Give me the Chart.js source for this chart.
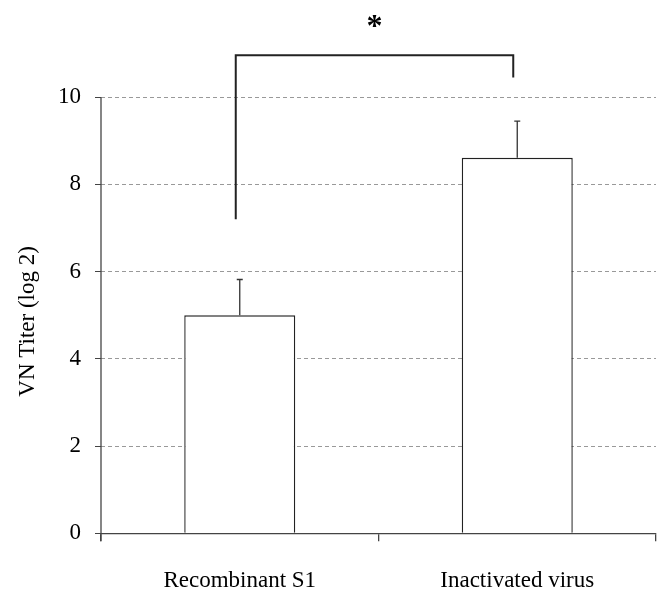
<!DOCTYPE html>
<html>
<head>
<meta charset="utf-8">
<script src="https://cdn.jsdelivr.net/npm/chart.js@4"></script>
<style>
  html, body { margin: 0; padding: 0; background: #fff; }
  #wrap { width: 664px; height: 598px; }
</style>
</head>
<body>
<div id="wrap"><canvas id="bars"></canvas></div>
<script>
const categories = ['Recombinant S1', 'Inactivated virus'];
const titers = [5.0, 8.61];
const errorTops = [5.82, 9.45];
const yTicks = [0, 2, 4, 6, 8, 10];
const yTitle = 'VN Titer (log 2)';
// significance bracket: left leg bottom, top, right leg bottom; star height
const bracket = { leftLow: 7.2, top: 10.96, rightLow: 10.45, star: 11.75, label: '*' };

const serif = "'Liberation Serif', 'DejaVu Serif', serif";

const extras = {
  id: 'extras',
  afterDatasetsDraw(chart) {
    const { ctx, scales: { x, y } } = chart;
    ctx.save();
    // y axis line, from 10 down past 0
    ctx.strokeStyle = '#444';
    ctx.lineWidth = 1.3;
    ctx.beginPath();
    ctx.moveTo(chart.chartArea.left, y.getPixelForValue(10));
    ctx.lineTo(chart.chartArea.left, y.getPixelForValue(0) + 8);
    ctx.stroke();

    // error bars (upper only)
    ctx.strokeStyle = '#333';
    ctx.lineWidth = 1.3;
    errorTops.forEach((v, i) => {
      const cx = x.getPixelForValue(i);
      const y0 = y.getPixelForValue(titers[i]);
      const y1 = y.getPixelForValue(v);
      ctx.beginPath();
      ctx.moveTo(cx, y0);
      ctx.lineTo(cx, y1);
      ctx.moveTo(cx - 3, y1);
      ctx.lineTo(cx + 3, y1);
      ctx.stroke();
    });

    // bracket
    const lx = x.getPixelForValue(0) - 4;
    const rx = x.getPixelForValue(1) - 4;
    ctx.strokeStyle = '#222';
    ctx.lineWidth = 2;
    ctx.beginPath();
    ctx.moveTo(lx, y.getPixelForValue(bracket.leftLow));
    ctx.lineTo(lx, y.getPixelForValue(bracket.top));
    ctx.lineTo(rx, y.getPixelForValue(bracket.top));
    ctx.lineTo(rx, y.getPixelForValue(bracket.rightLow));
    ctx.stroke();

    ctx.fillStyle = '#000';
    ctx.font = "bold 32px " + serif;
    ctx.textAlign = 'center';
    ctx.textBaseline = 'middle';
    ctx.fillText(bracket.label, (lx + rx) / 2, y.getPixelForValue(bracket.star) + 7);

    // y title, sits a bit below the middle of the axis
    ctx.translate(28, y.getPixelForValue(4.86));
    ctx.rotate(-Math.PI / 2);
    ctx.font = "23px " + serif;
    ctx.fillText(yTitle, 0, 0);
    ctx.restore();
  }
};

new Chart(document.getElementById('bars'), {
  type: 'bar',
  data: {
    labels: categories,
    datasets: [{
      data: titers,
      backgroundColor: '#fff',
      borderColor: '#222',
      borderWidth: 1.4,
      categoryPercentage: 1,
      barPercentage: 0.4
    }]
  },
  options: {
    responsive: true,
    maintainAspectRatio: false,
    animation: false,
    layout: { padding: { top: 10, right: 8, left: 0, bottom: 0 } },
    plugins: { legend: { display: false }, tooltip: { enabled: false } },
    scales: {
      x: {
        offset: true,
        grid: { offset: true, drawOnChartArea: false, drawTicks: true, tickLength: 8, color: '#444', lineWidth: 1.3 },
        border: { display: true, color: '#444', width: 1.3 },
        ticks: { color: '#000', font: { family: serif, size: 23 }, padding: 26 },
        afterFit(scale) { scale.height = 64.7; }
      },
      y: {
        min: 0,
        max: 12,
        afterBuildTicks(scale) { scale.ticks = yTicks.map(v => ({ value: v })); },
        grid: {
          color: ctx => ctx.tick && ctx.tick.value === 0 ? 'rgba(0,0,0,0)' : '#999',
          tickColor: '#444',
          tickLength: 6,
          lineWidth: 1
        },
        border: { display: false, dash: [4, 3] },
        ticks: { color: '#000', font: { family: serif, size: 23 }, padding: 14 },
        afterFit(scale) { scale.width = 101; scale.paddingTop = 0; scale.paddingBottom = 0; }
      }
    }
  },
  plugins: [extras]
});
</script>
</body>
</html>
